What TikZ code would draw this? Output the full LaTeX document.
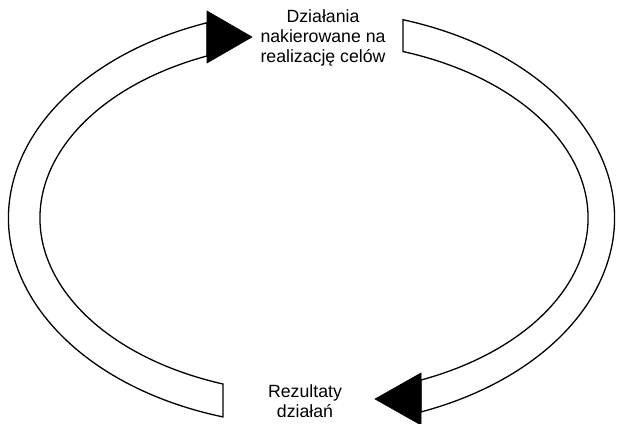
\documentclass[tikz,border=0pt]{standalone}
\usepackage{fontspec}
\setmainfont{Liberation Sans}
\usetikzlibrary{calc}
\begin{document}
\begin{tikzpicture}[x=1pt,y=1pt,
  band/.style={draw=black, line width=1.3pt, fill=white, line join=miter},
  head/.style={fill=black, draw=black, line width=0.6pt, line join=miter},
  lbl/.style={font=\fontsize{17.7}{20}\selectfont, align=center, inner sep=0pt, text=black}]
\useasboundingbox (0,0) rectangle (617,423);
\fill[white] (0,0) rectangle (617,423);
\coordinate (oc) at (311.5,205);
\coordinate (ic) at (314,205);
% left band (goes up to the top, arrow pointing right)
\draw[band] ($(oc)+(253:303pt and 208pt)$)
  arc[start angle=253, end angle=110.18, x radius=303pt, y radius=208pt]
  -- ($(ic)+(112.99:274pt and 176pt)$)
  arc[start angle=112.99, end angle=250.6, x radius=274pt, y radius=176pt]
  -- cycle;
% right band (goes down to the bottom, arrow pointing left)
\draw[band] ($(oc)+(72.42:303pt and 208pt)$)
  arc[start angle=72.42, end angle=-68.82, x radius=303pt, y radius=208pt]
  -- ($(ic)+(-67.01:274pt and 176pt)$)
  arc[start angle=-67.01, end angle=71.05, x radius=274pt, y radius=176pt]
  -- cycle;
% arrowheads
\filldraw[head] (207,412) -- (252,386) -- (207,360) -- cycle;
\filldraw[head] (421,50) -- (375,24) -- (421,-2) -- cycle;
% labels (base anchor = baseline of the last line)
\node[lbl, anchor=base] (top) at (323,360) {Działania\\nakierowane na\\realizację celów};
\node[lbl, anchor=base] (bot) at (305,6) {Rezultaty\\działań};
\end{tikzpicture}
\end{document}
